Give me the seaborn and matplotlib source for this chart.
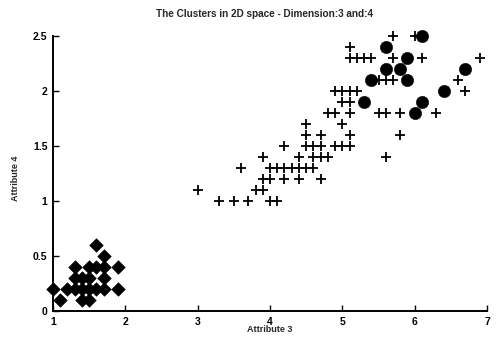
import matplotlib
matplotlib.use("Agg")
import matplotlib.pyplot as plt
import seaborn as sns

# Cluster 1 (diamonds): attribute 3 vs attribute 4
c1_attr3 = [1.1, 1.4, 1.5,
            1.0, 1.2, 1.3, 1.4, 1.5, 1.6, 1.7, 1.9,
            1.3, 1.4, 1.5, 1.7,
            1.3, 1.5, 1.6, 1.7, 1.9,
            1.7,
            1.6]
c1_attr4 = [0.1, 0.1, 0.1,
            0.2, 0.2, 0.2, 0.2, 0.2, 0.2, 0.2, 0.2,
            0.3, 0.3, 0.3, 0.3,
            0.4, 0.4, 0.4, 0.4, 0.4,
            0.5,
            0.6]

# Cluster 2 (plus signs)
c2_attr3 = [3.3, 3.5, 3.7, 4.0, 4.1,
            3.0, 3.8, 3.9,
            3.9, 4.0, 4.2, 4.4, 4.7,
            3.6, 4.0, 4.1, 4.2, 4.3, 4.4, 4.5, 4.6,
            3.9, 4.4, 4.6, 4.7, 4.8, 5.6,
            4.2, 4.5, 4.6, 4.7, 4.9, 5.0, 5.1,
            4.5, 4.7, 5.1, 5.8,
            4.5, 5.0,
            4.8, 4.9, 5.1, 5.5, 5.6, 5.8, 6.3,
            5.0, 5.1,
            4.9, 5.0, 5.1, 5.2, 6.7,
            5.5, 5.6, 5.7, 6.6,
            5.1, 5.2, 5.3, 5.4, 5.7, 6.1, 6.9,
            5.1,
            5.7, 6.0]
c2_attr4 = [1.0, 1.0, 1.0, 1.0, 1.0,
            1.1, 1.1, 1.1,
            1.2, 1.2, 1.2, 1.2, 1.2,
            1.3, 1.3, 1.3, 1.3, 1.3, 1.3, 1.3, 1.3,
            1.4, 1.4, 1.4, 1.4, 1.4, 1.4,
            1.5, 1.5, 1.5, 1.5, 1.5, 1.5, 1.5,
            1.6, 1.6, 1.6, 1.6,
            1.7, 1.7,
            1.8, 1.8, 1.8, 1.8, 1.8, 1.8, 1.8,
            1.9, 1.9,
            2.0, 2.0, 2.0, 2.0, 2.0,
            2.1, 2.1, 2.1, 2.1,
            2.3, 2.3, 2.3, 2.3, 2.3, 2.3, 2.3,
            2.4,
            2.5, 2.5]

# Cluster 3 (filled circles)
c3_attr3 = [6.0, 5.3, 6.1, 6.4, 5.4, 5.9, 5.6, 5.8, 6.7, 5.9, 5.6, 6.1]
c3_attr4 = [1.8, 1.9, 1.9, 2.0, 2.1, 2.1, 2.2, 2.2, 2.2, 2.3, 2.4, 2.5]

x_ticks = [1, 2, 3, 4, 5, 6, 7]
y_ticks = [0, 0.5, 1, 1.5, 2, 2.5]
y_tick_labels = ["0", "0.5", "1", "1.5", "2", "2.5"]

sns.set_style("ticks")
plt.rcParams["font.family"] = ["Liberation Sans", "DejaVu Sans"]

W, H = 504, 341
fig = plt.figure(figsize=(W / 100, H / 100), dpi=100)
fig.patch.set_facecolor("white")
ax = fig.add_axes([53 / W, 1 - 311 / H, (487 - 53) / W, (311 - 36) / H])

sns.scatterplot(x=c1_attr3, y=c1_attr4, marker="D", s=48, color="black",
                edgecolor="black", linewidth=0.4, ax=ax, clip_on=False, zorder=3)
sns.scatterplot(x=c2_attr3, y=c2_attr4, marker="+", s=60, color="black",
                linewidth=1.3, ax=ax, clip_on=False, zorder=3)
sns.scatterplot(x=c3_attr3, y=c3_attr4, marker="o", s=78, color="black",
                edgecolor="black", linewidth=0.4, ax=ax, clip_on=False, zorder=3)

ax.set_xlim(1, 7)
ax.set_ylim(0, 2.5)
ax.set_xticks(x_ticks)
ax.set_xticklabels([str(t) for t in x_ticks])
ax.set_yticks(y_ticks)
ax.set_yticklabels(y_tick_labels)
ax.tick_params(direction="in", length=4, width=1.0, labelsize=7.5, pad=4,
               colors="black")
for lbl in ax.get_xticklabels() + ax.get_yticklabels():
    lbl.set_fontweight("bold")

for side in ("top", "right"):
    ax.spines[side].set_visible(False)
for side in ("left", "bottom"):
    ax.spines[side].set_linewidth(1.4)
    ax.spines[side].set_color("black")
ax.set_xlabel("")
ax.set_ylabel("")

fig.text(265 / W, 1 - 14 / H, "The Clusters in 2D space - Dimension:3 and:4",
         ha="center", va="center", fontsize=7.2, fontweight="bold")
fig.text(270 / W, 1 - 330 / H, "Attribute 3", ha="center", va="center",
         fontsize=6.5, fontweight="bold")
fig.text(16 / W, 1 - 178 / H, "Attribute 4", ha="center", va="center",
         rotation=90, fontsize=6.5, fontweight="bold")

fig.savefig("out.png", dpi=100, facecolor="white")
